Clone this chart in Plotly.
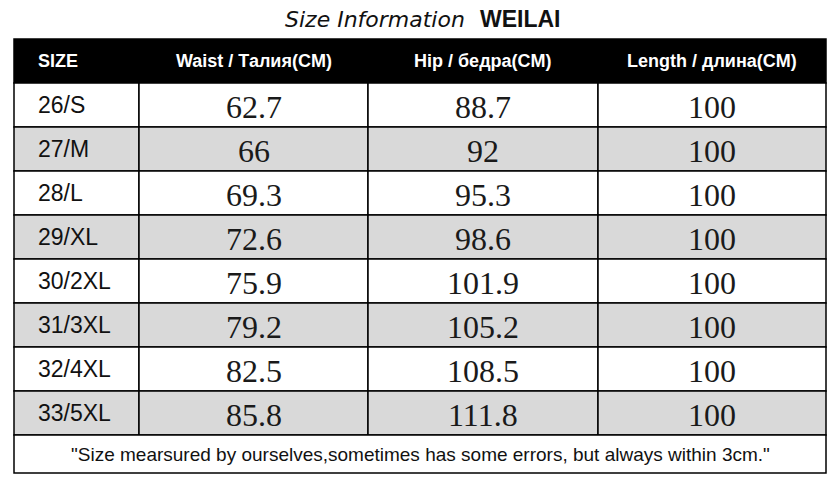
import plotly.graph_objects as go

# size chart values
sizes = ["26/S", "27/M", "28/L", "29/XL", "30/2XL", "31/3XL", "32/4XL", "33/5XL"]
waist = [62.7, 66, 69.3, 72.6, 75.9, 79.2, 82.5, 85.8]
hip = [88.7, 92, 95.3, 98.6, 101.9, 105.2, 108.5, 111.8]
length = [100, 100, 100, 100, 100, 100, 100, 100]
headers = ["SIZE", "Waist / Талия(CM)", "Hip / бедра(CM)", "Length / длина(CM)"]
title_left = "Size Information"
title_right = "WEILAI"
note = '"Size mearsured by ourselves,sometimes has some errors, but always within 3cm."'

# geometry (pixels)
W, H = 836, 485
col_edges = [14, 139, 368, 598, 826]
top = 39
head_h = 44
row_h = 44
foot_h = 38
gray = "#d9d9d9"
line = dict(color="black", width=1.5)

fig = go.Figure()
shapes = []
annots = []

# header band
shapes.append(dict(type="rect", x0=col_edges[0], x1=col_edges[-1], y0=top, y1=top + head_h,
                   fillcolor="black", line=dict(color="black", width=1.5)))
for i, h in enumerate(headers):
    if i == 0:
        x, anchor = col_edges[0] + 22, "left"
    else:
        x, anchor = (col_edges[i] + col_edges[i + 1]) / 2, "center"
    annots.append(dict(x=x, y=top + head_h / 2, text="<b>%s</b>" % h, showarrow=False,
                       xanchor=anchor, yanchor="middle",
                       font=dict(family="Liberation Sans, Arial", size=18, color="white")))

# body rows
cols = [waist, hip, length]
for r in range(len(sizes)):
    y0 = top + head_h + r * row_h
    y1 = y0 + row_h
    fill = "white" if r % 2 == 0 else gray
    for c in range(4):
        shapes.append(dict(type="rect", x0=col_edges[c], x1=col_edges[c + 1], y0=y0, y1=y1,
                           fillcolor=fill, line=line))
    annots.append(dict(x=col_edges[0] + 22, y=(y0 + y1) / 2, text=sizes[r], showarrow=False,
                       xanchor="left", yanchor="middle",
                       font=dict(family="Liberation Sans, Arial", size=23, color="#111")))
    for c, vals in enumerate(cols):
        annots.append(dict(x=(col_edges[c + 1] + col_edges[c + 2]) / 2, y=(y0 + y1) / 2 + 2,
                           text=f"{vals[r]:g}", showarrow=False,
                           xanchor="center", yanchor="middle",
                           font=dict(family="Liberation Serif, Times New Roman", size=32,
                                     color="#1a1a1a")))

# footer note row
fy0 = top + head_h + len(sizes) * row_h
shapes.append(dict(type="rect", x0=col_edges[0], x1=col_edges[-1], y0=fy0, y1=fy0 + foot_h,
                   fillcolor="white", line=line))
annots.append(dict(x=(col_edges[0] + col_edges[-1]) / 2, y=fy0 + foot_h / 2, text=note,
                   showarrow=False, xanchor="center", yanchor="middle",
                   font=dict(family="Liberation Sans, Arial", size=19, color="#111")))

# title
annots.append(dict(x=467, y=19, text="<i>%s</i>" % title_left, showarrow=False,
                   xanchor="right", yanchor="middle",
                   font=dict(family="DejaVu Sans", size=22, color="#111")))
annots.append(dict(x=478, y=19, text="<b>%s</b>" % title_right, showarrow=False,
                   xanchor="left", yanchor="middle",
                   font=dict(family="Liberation Sans, Arial", size=23, color="#111")))

for s in shapes:
    s.update(xref="x", yref="y", layer="below")
for a in annots:
    a.update(xref="x", yref="y")

fig.update_layout(
    width=W, height=H, margin=dict(l=0, r=0, t=0, b=0),
    paper_bgcolor="white", plot_bgcolor="white",
    xaxis=dict(range=[0, W], visible=False, fixedrange=True),
    yaxis=dict(range=[H, 0], visible=False, fixedrange=True),
    shapes=shapes, annotations=annots, showlegend=False)
# page body margin would shift the figure by 8px
fig.write_html("out.html", post_script="document.body.style.margin='0';",
               config={"displayModeBar": False})
